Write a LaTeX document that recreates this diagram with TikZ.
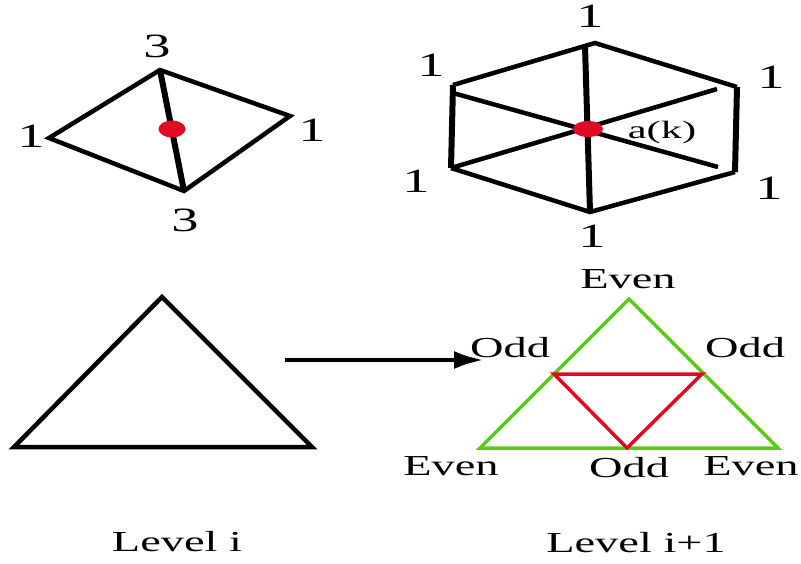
\documentclass[tikz,border=0pt]{standalone}
\usepackage{fontspec}
\setmainfont{Liberation Serif}
\usetikzlibrary{arrows.meta,shapes.geometric}
\definecolor{gr}{RGB}{85,205,20}
\definecolor{rd}{RGB}{225,10,35}
\newcommand{\stretchtxt}[2][1.6]{\scalebox{#1}[1]{#2}}
\begin{document}
\begin{tikzpicture}[x=1pt,y=-1pt,
  edge/.style={line width=4.5pt, line join=miter},
  heavy/.style={line width=6pt},
  lbl/.style={inner sep=0pt, font=\fontsize{29}{31}\selectfont},
  num/.style={inner sep=0pt, font=\fontsize{34}{36}\selectfont},
  dotshape/.style={ellipse, fill=rd, draw=none, inner sep=0pt},
  grline/.style={draw=gr, line width=3.5pt, line join=miter},
  rdline/.style={draw=rd, line width=3.5pt, line join=miter}]
\useasboundingbox (0,0) rectangle (801,563);
% ---------- diamond ----------
\coordinate (dT) at (160,70);
\coordinate (dL) at (49,138);
\coordinate (dR) at (290,116);
\coordinate (dB) at (184,191);
\draw[edge] (dT) -- (dR) -- (dB) -- (dL) -- cycle;
\draw[heavy] (dT) -- (dB);
\node[dotshape, minimum width=27pt, minimum height=17pt] (dc) at (172,129) {};
\node[num] (d3t) at (157,46) {\stretchtxt{3}};
\node[num] (d1l) at (31,136) {\stretchtxt{1}};
\node[num] (d1r) at (312,130) {\stretchtxt{1}};
\node[num] (d3b) at (185,220) {\stretchtxt{3}};
% ---------- hexagon ----------
\coordinate (hTL) at (453,85);
\coordinate (hT) at (595,43);
\coordinate (hTR) at (737,87);
\coordinate (hBR) at (735,172);
\coordinate (hB) at (590,212);
\coordinate (hBL) at (451,168);
\draw[edge] (hBL) -- (hB) -- (hBR);
\draw[edge] (hTL) -- (hT) -- (hTR);
\draw[heavy] (hTR) -- (hBR);
\draw[heavy] (hBL) -- (hTL);
\coordinate (sVt) at (585,46);
\coordinate (s1a) at (453,93);
\coordinate (s1b) at (718,167);
\coordinate (s2b) at (717,89);
\draw[heavy] (sVt) -- (hB);
\draw[edge] (s1a) -- (s1b);
\draw[edge] (hBL) -- (s2b);
\node[dotshape, minimum width=30pt, minimum height=16pt] (hc) at (588,129) {};
\node[num] (h1t) at (590,16) {\stretchtxt{1}};
\node[num] (h1tl) at (431,65) {\stretchtxt{1}};
\node[num] (h1tr) at (771,77) {\stretchtxt{1}};
\node[num] (h1bl) at (416,181) {\stretchtxt{1}};
\node[num] (h1br) at (769,188) {\stretchtxt{1}};
\node[num] (h1b) at (592,236) {\stretchtxt{1}};
\node[inner sep=0pt, font=\fontsize{25}{27}\selectfont] (ak) at (662,132) {\stretchtxt[1.7]{a(k)}};
% ---------- level i triangle ----------
\coordinate (tA) at (162,297);
\coordinate (tL) at (14,447);
\coordinate (tR) at (312,447);
\draw[edge] (tA) -- (tR) -- (tL) -- cycle;
% ---------- arrow ----------
\coordinate (arS) at (285,360);
\coordinate (arE) at (484,360);
\draw[line width=4.5pt, -{Latex[length=30pt,width=18pt]}] (arS) -- (arE);
% ---------- level i+1 triangle ----------
\coordinate (gA) at (629,299);
\coordinate (gL) at (480,448);
\coordinate (gR) at (778,448);
\coordinate (rL) at (554,374);
\coordinate (rR) at (702,374);
\coordinate (rB) at (627,448);
\draw[grline] (gA) -- (gR) -- (gL) -- cycle;
\draw[rdline] (rL) -- (rR) -- (rB) -- cycle;
\node[lbl] (eT) at (628,279) {\stretchtxt{Even}};
\node[lbl] (oL) at (510,348) {\stretchtxt{Odd}};
\node[lbl] (oR) at (745,348) {\stretchtxt{Odd}};
\node[lbl] (eL) at (451,466) {\stretchtxt{Even}};
\node[lbl] (oB) at (629,468) {\stretchtxt{Odd}};
\node[lbl] (eR) at (751,466) {\stretchtxt{Even}};
% ---------- captions ----------
\node[lbl] (lv1) at (177,542) {\stretchtxt{Level i}};
\node[lbl] (lv2) at (636,543) {\stretchtxt{Level i+1}};
\end{tikzpicture}
\end{document}
